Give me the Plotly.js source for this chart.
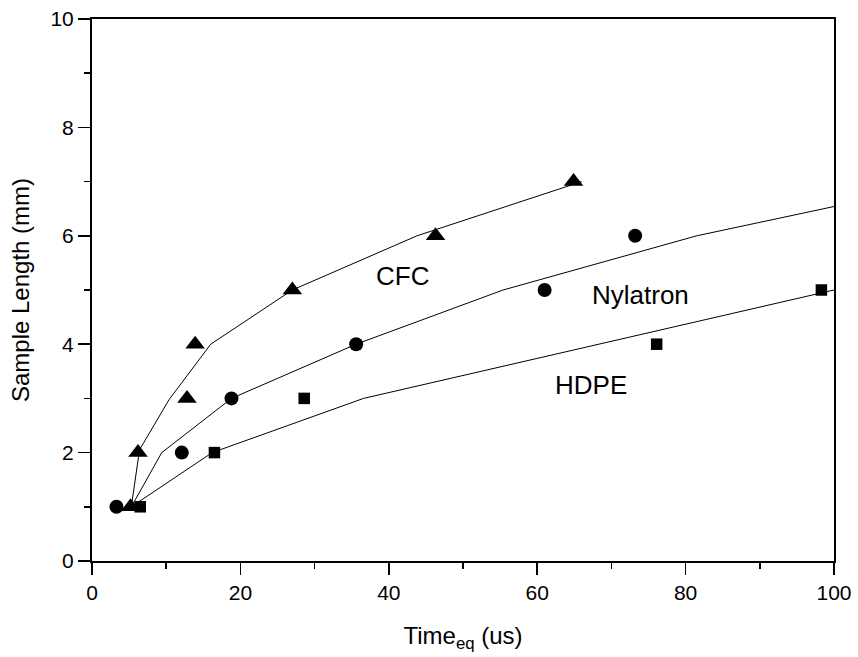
<!DOCTYPE html>
<html>
<head>
<meta charset="utf-8">
<script src="https://cdn.plot.ly/plotly-3.0.1.min.js"></script>
<style>
  html, body { margin: 0; padding: 0; background: #fff; }
  #chart { width: 858px; height: 657px; }
</style>
</head>
<body>
<div id="chart"></div>
<script>
// Measured points
const cfcTime = [5.2, 6.2, 12.8, 13.9, 27.0, 46.3, 64.9];
const cfcLength = [1, 2, 3, 4, 5, 6, 7];
const nylTime = [3.3, 12.1, 18.8, 35.6, 61.0, 73.2];
const nylLength = [1, 2, 3, 4, 5, 6];
const hdpeTime = [6.5, 16.5, 28.6, 76.1, 98.3];
const hdpeLength = [1, 2, 3, 4, 5];

// Fitted curves (piecewise lines)
const cfcFitTime = [5.3, 6.4, 10.4, 16.0, 27.0, 43.8, 66.0];
const cfcFitLength = [1, 2.05, 2.98, 4.0, 5.0, 6.0, 7.0];
const nylFitTime = [5.3, 9.4, 18.8, 35.6, 55.4, 81.5, 100];
const nylFitLength = [1, 2.0, 3.0, 4.0, 5.0, 6.0, 6.54];
const hdpeFitTime = [5.3, 16.2, 36.6, 100];
const hdpeFitLength = [1, 2.0, 3.0, 5.0];

// Curve labels
const labelText = ["CFC", "Nylatron", "HDPE"];
const labelTime = [41.9, 73.9, 67.3];
const labelLength = [5.26, 4.91, 3.25];

const FONT = "Liberation Sans, Arial, sans-serif";
const lineStyle = {color: "black", width: 1};

const traces = [
  {x: cfcFitTime, y: cfcFitLength, mode: "lines", line: lineStyle, showlegend: false, hoverinfo: "skip"},
  {x: nylFitTime, y: nylFitLength, mode: "lines", line: lineStyle, showlegend: false, hoverinfo: "skip"},
  {x: hdpeFitTime, y: hdpeFitLength, mode: "lines", line: lineStyle, showlegend: false, hoverinfo: "skip"},
  {x: cfcTime, y: cfcLength, mode: "markers", name: "CFC",
   marker: {symbol: "triangle-up", size: 17, color: "black"}, showlegend: false},
  {x: nylTime, y: nylLength, mode: "markers", name: "Nylatron",
   marker: {symbol: "circle", size: 14, color: "black"}, showlegend: false},
  {x: hdpeTime, y: hdpeLength, mode: "markers", name: "HDPE",
   marker: {symbol: "square", size: 11.5, color: "black"}, showlegend: false}
];

const annotations = labelText.map((t, i) => ({
  x: labelTime[i], y: labelLength[i], xref: "x", yref: "y",
  text: t, showarrow: false, font: {family: FONT, size: 26, color: "black"}
}));

const axisCommon = {
  showgrid: false, zeroline: false,
  showline: true, linecolor: "black", linewidth: 2, mirror: true,
  ticks: "outside", ticklen: 12, tickwidth: 1.5, tickcolor: "black",
  tickfont: {family: FONT, size: 21, color: "black"},
  automargin: false
};

const layout = {
  width: 858, height: 657,
  margin: {l: 92, r: 24, t: 19, b: 96},
  paper_bgcolor: "white", plot_bgcolor: "white",
  font: {family: FONT, color: "black"},
  showlegend: false,
  xaxis: Object.assign({}, axisCommon, {
    range: [0, 100], tick0: 0, dtick: 20,
    minor: {dtick: 10, ticks: "outside", ticklen: 6, tickwidth: 1.5, tickcolor: "black"},
    title: {text: "Time<sub>eq</sub> (us)", font: {family: FONT, size: 24, color: "black"}, standoff: 24}
  }),
  yaxis: Object.assign({}, axisCommon, {
    range: [0, 10], tick0: 0, dtick: 2,
    minor: {dtick: 1, ticks: "outside", ticklen: 6, tickwidth: 1.5, tickcolor: "black"},
    title: {text: "Sample Length (mm)", font: {family: FONT, size: 24, color: "black"}, standoff: 14}
  }),
  annotations: annotations
};

Plotly.newPlot("chart", traces, layout, {displayModeBar: false, staticPlot: true});
</script>
</body>
</html>
